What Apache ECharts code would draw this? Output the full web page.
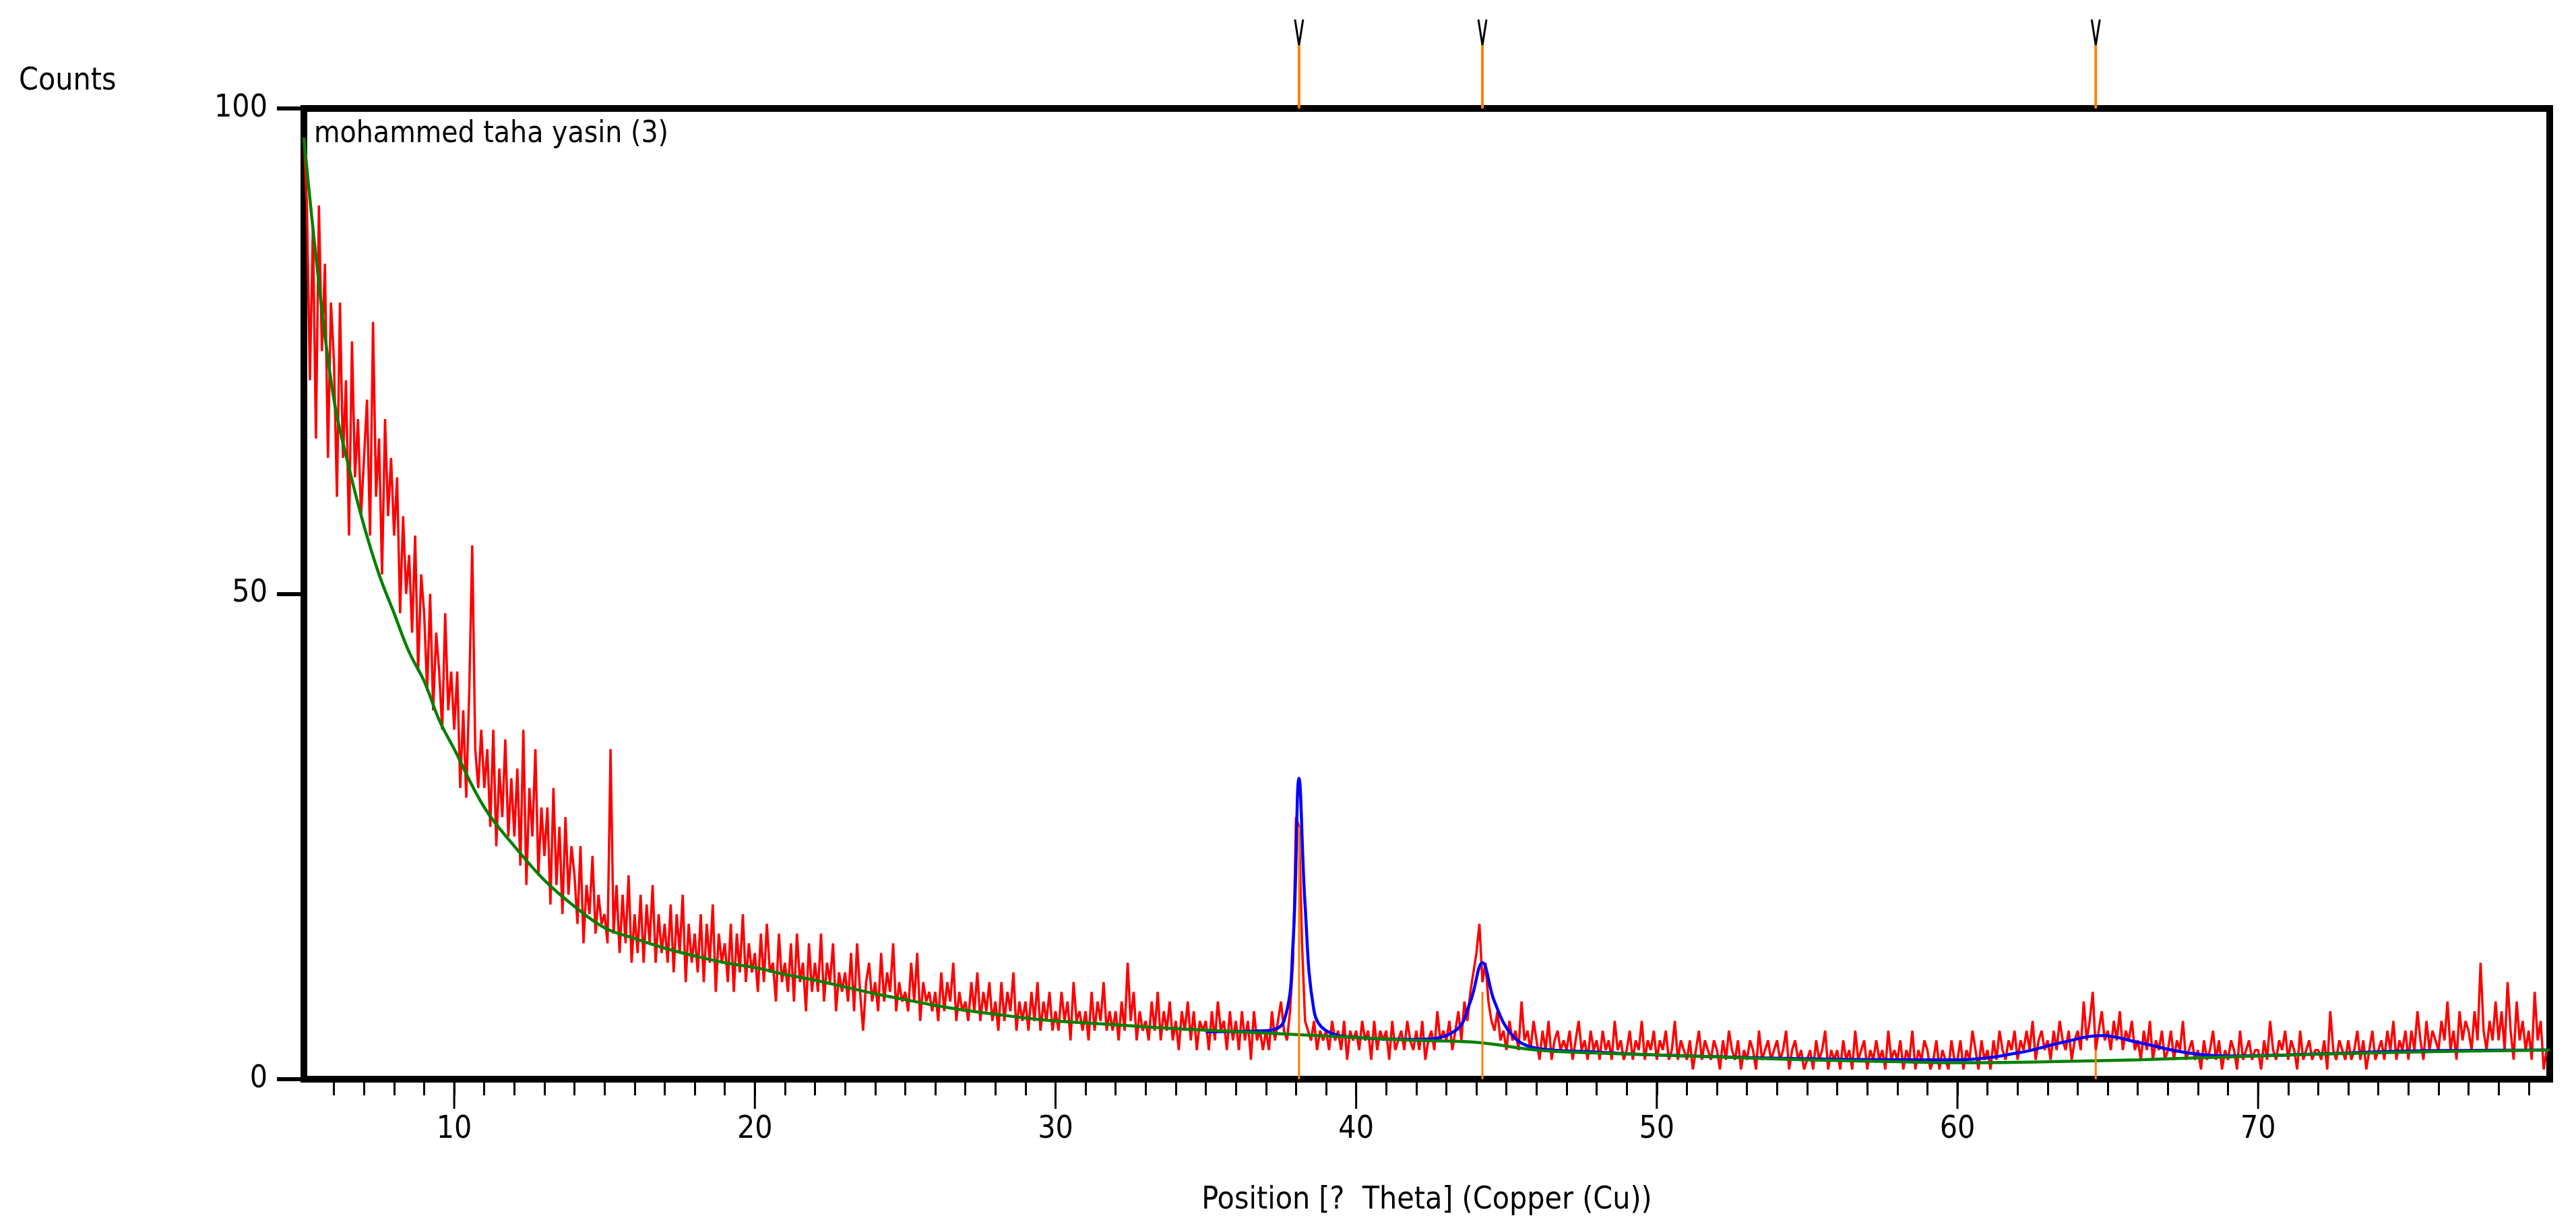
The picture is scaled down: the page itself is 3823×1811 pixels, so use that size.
<!DOCTYPE html>
<html><head><meta charset="utf-8">
<script src="https://cdn.jsdelivr.net/npm/echarts@6/dist/echarts.min.js"></script>
<style>html,body{margin:0;padding:0;background:#fff}#c{width:3823px;height:1811px}</style>
</head><body><div id="c"></div>
<script>
const X_START = 5.0, X_STEP = 0.1;
const measured = [
97,90,72,88,66,90,75,84,64,80,
74,60,80,64,72,56,76,62,68,58,
64,70,56,78,60,66,52,68,58,64,
56,62,48,58,50,54,46,56,42,52,
48,40,50,38,46,42,36,48,38,42,
36,42,30,38,29,40,55,34,30,36,
30,34,26,36,24,32,27,35,25,31,
25,32,22,36,20,30,25,34,21,28,
23,28,18,30,20,26,17,27,19,24,
21,16,24,14,20,17,23,15,19,16,
17,14,34,15,20,13,19,14,21,12,
17,13,19,12,18,14,20,12,17,13,
16,12,18,11,17,13,19,10,16,12,
15,11,17,10,16,12,18,9,15,12,
14,10,16,9,15,11,17,10,14,11,
13,9,15,10,16,11,12,8,15,10,
12,9,14,8,15,10,12,7,14,9,
12,9,15,8,12,10,14,7,11,9,
11,8,13,7,14,9,5,10,12,8,
10,7,13,8,11,9,14,7,10,8,
9,7,12,8,13,6,10,8,9,7,
9,6,11,7,10,8,12,6,9,7,
8,6,10,7,11,6,9,7,10,6,
8,5,10,6,9,7,11,5,8,6,
8,5,9,6,10,5,8,6,9,5,
7,5,9,6,8,4,10,6,7,5,
7,4,9,5,8,6,10,5,7,5,
7,4,8,5,12,6,9,4,7,5,
6,4,8,5,9,4,7,5,8,4,
6,3,7,5,8,4,7,3,6,5,
6,3,7,4,8,5,6,3,7,4,
6,3,7,4,6,2,7,4,5,3,
5,3,7,4,6,8,5,4,7,12,
27,26,14,6,5,4,6,3,5,4,
5,3,6,4,5,3,6,2,5,4,
5,3,6,4,5,2,6,3,5,4,
5,2,6,3,4,5,3,6,4,3,
5,3,6,2,4,5,3,7,4,5,
4,6,3,5,7,4,8,6,9,11,
13,16,10,12,8,6,5,7,4,5,
3,6,4,5,3,8,4,5,3,6,
4,2,5,3,6,2,4,5,3,4,
3,5,2,4,6,3,4,2,5,3,
4,2,5,3,4,2,6,3,4,2,
3,5,2,4,3,6,2,4,3,5,
2,4,3,5,2,3,6,2,4,3,
2,4,1,3,5,2,4,3,2,4,
3,1,4,2,5,3,2,4,1,3,
2,4,3,1,5,2,3,4,2,3,
4,2,3,5,1,3,4,2,3,1,
2,3,1,4,2,3,5,1,3,2,
3,1,4,2,3,1,5,2,3,4,
1,3,2,4,2,3,1,5,2,3,
2,4,1,3,2,5,1,3,2,4,
3,1,2,4,1,3,2,1,4,2,
2,4,1,3,2,5,3,1,4,2,
3,1,4,2,5,3,2,4,3,5,
2,4,3,5,3,6,2,4,5,3,
4,2,5,3,6,4,3,5,2,4,
5,3,8,4,6,9,3,5,7,4,
5,3,6,4,7,3,5,4,6,3,
4,2,5,3,6,2,4,3,5,2,
3,5,2,4,3,6,2,3,4,2,
3,1,4,2,3,5,2,4,1,3,
2,4,3,1,5,2,3,4,2,3,
3,1,4,2,6,3,2,4,3,5,
2,4,3,1,5,2,3,4,2,3,
3,2,4,1,7,3,2,4,3,2,
4,2,3,5,2,4,1,3,5,2,
3,4,2,5,3,6,2,4,3,5,
2,5,3,7,4,2,6,3,5,4,
3,6,4,8,3,5,2,7,4,6,
5,3,7,4,12,5,3,6,4,8,
4,7,3,10,5,2,8,4,6,3,
5,2,9,4,6,1,3
];
const bgX = [5,5.5,6,6.5,7,7.5,8,8.5,9,9.5,10,11,12,13,14,15,16,17,18,19,20,21,22,23,24,25,26,27,28,29,30,32,34,36,38,40,42,44,46,48,50,52,55,58,60,63,66,70,75,79.7];
const bgY = [97,82,70,63,57,52,48,44,41,37,34,28,24,20.5,17.8,15.6,14.5,13.5,12.7,12,11.5,10.8,10.2,9.5,8.8,8.2,7.6,7.1,6.7,6.3,6,5.6,5.2,4.9,4.6,4.3,4,3.8,3,2.7,2.5,2.3,2,1.8,1.7,1.8,2,2.4,2.8,3];
const fitX = [35,37,37.6,37.9,38.1,38.3,38.6,39,40,42,43.3,43.8,44.2,44.6,45.2,46,48,50,55,60,62,63.5,64.8,66,67.5,69,72,75,79.7];
const fitY = [4.9,5,6,14,31,18,7,5,4.3,4.1,5,8,12,8,4.5,3.2,2.8,2.5,2.1,2,2.7,3.8,4.5,3.8,2.8,2.4,2.6,2.9,3];
const peakPos = [38.1,44.2,64.6];
const peakH = [26,9,3];
const majorTicks = [10,20,30,40,50,60,70];

const FONT = "'Liberation Sans Narrow','DejaVu Sans Condensed','Open Sans',sans-serif";
const zip = (a,b)=>a.map((v,i)=>[v,b[i]]);
const redData = measured.map((v,i)=>[+(X_START+i*X_STEP).toFixed(2), v]);

const chart = echarts.init(document.getElementById('c'));
chart.setOption({
  animation:false,
  grid:{left:451,right:39,top:161,bottom:209,show:true,borderColor:'#000',borderWidth:10},
  xAxis:{type:'value',min:5,max:79.7,interval:1,
    name:'Position [?  Theta] (Copper (Cu))',nameLocation:'middle',nameGap:157,
    nameTextStyle:{fontFamily:FONT,fontSize:46,color:'#000'},
    axisLine:{show:false},splitLine:{show:false},
    axisTick:{show:true,length:24,lineStyle:{color:'#000',width:3}},
    axisLabel:{margin:52,fontFamily:FONT,fontSize:46,color:'#000',
      formatter:v=>(Math.abs(v%10)<1e-6?String(v):''),showMinLabel:false,showMaxLabel:false}},
  yAxis:{type:'value',min:0,max:100,interval:50,
    axisLine:{show:false},splitLine:{show:false},
    axisTick:{show:true,length:40,lineStyle:{color:'#000',width:6}},
    axisLabel:{margin:54,fontFamily:FONT,fontSize:46,color:'#000'}},
  graphic:[
    {type:'text',left:28,top:98,style:{text:'Counts',font:'46px '+FONT,fill:'#000'}},
    {type:'text',left:466,top:178,style:{text:'mohammed taha yasin (3)',font:'44px '+FONT,fill:'#000'}}
  ],
  series:[
    {type:'line',data:redData,symbol:'none',lineStyle:{color:'#ff0000',width:3.5},z:2},
    {type:'line',data:zip(fitX,fitY),symbol:'none',smooth:0.4,lineStyle:{color:'#0000ff',width:4.5},z:3},
    {type:'line',data:zip(bgX,bgY),symbol:'none',smooth:0.4,lineStyle:{color:'#008000',width:4.5},z:4},
    {type:'custom',clip:false,z:5,data:zip(peakPos,peakH),
      renderItem:(p,api)=>{const b=api.coord([api.value(0),0]),t=api.coord([api.value(0),api.value(1)]);
        return {type:'line',shape:{x1:b[0],y1:b[1],x2:t[0],y2:t[1]},style:{stroke:'#ff8000',lineWidth:3}};}},
    {type:'custom',clip:false,z:6,data:peakPos.map(v=>[v]),
      renderItem:(p,api)=>{const c=api.coord([api.value(0),100]);
        return {type:'group',children:[
          {type:'line',shape:{x1:c[0],y1:c[1],x2:c[0],y2:c[1]-94},style:{stroke:'#ff8000',lineWidth:4}},
          {type:'line',shape:{x1:c[0],y1:c[1]-94,x2:c[0]-6,y2:c[1]-132},style:{stroke:'#000',lineWidth:3}},
          {type:'line',shape:{x1:c[0],y1:c[1]-94,x2:c[0]+6,y2:c[1]-132},style:{stroke:'#000',lineWidth:3}}]};}},
    {type:'custom',clip:false,z:6,data:majorTicks.map(v=>[v]),
      renderItem:(p,api)=>{const c=api.coord([api.value(0),0]);
        return {type:'line',shape:{x1:c[0],y1:c[1],x2:c[0],y2:c[1]+44},style:{stroke:'#000',lineWidth:3}};}}
  ]
});
</script></body></html>
